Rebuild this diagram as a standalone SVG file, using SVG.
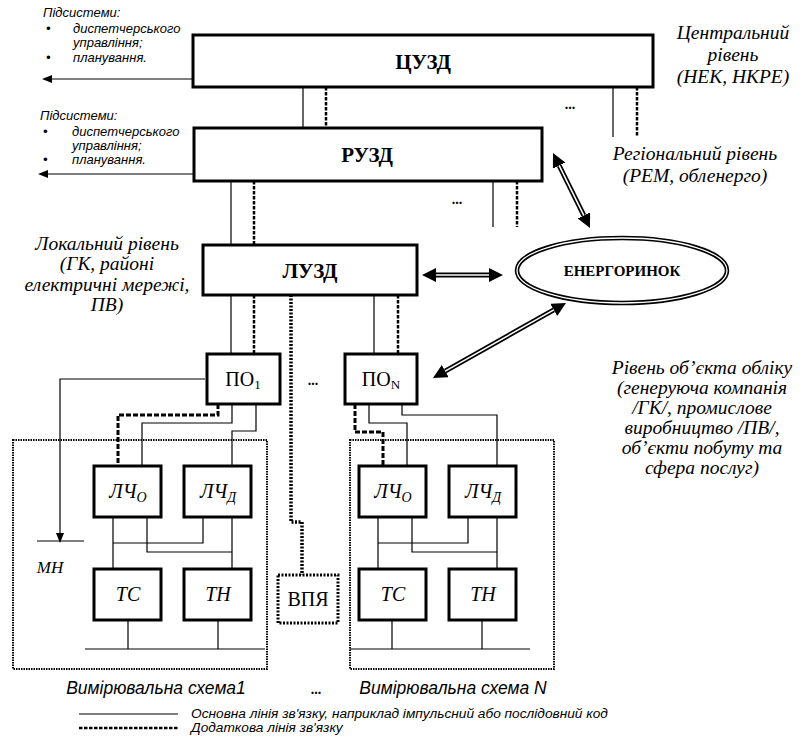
<svg xmlns="http://www.w3.org/2000/svg" width="803" height="742" viewBox="0 0 803 742">
<style>
.box{fill:#fff;stroke:#000;stroke-width:3}
.sl{fill:none;stroke:#000;stroke-width:1.2}
.ds{fill:none;stroke:#000;stroke-width:2.5;stroke-dasharray:3.5 1.5}
.ds2{fill:none;stroke:#000;stroke-width:3;stroke-dasharray:5 2}
.dt{fill:none;stroke:#000;stroke-width:3.5;stroke-dasharray:2 1.5}
.frame{fill:none;stroke:#000;stroke-width:2;stroke-dasharray:1.5 1}
.sm{font-family:'Liberation Sans',Arial,sans-serif;font-style:italic;font-size:13px}
.lv{font-family:'Liberation Serif','Times New Roman',serif;font-style:italic;font-size:19.5px;text-anchor:middle}
.bt{font-family:'Liberation Serif','Times New Roman',serif;font-weight:bold;font-size:21px;text-anchor:middle}
.rt{font-family:'Liberation Serif','Times New Roman',serif;font-size:20px;text-anchor:middle}
.it{font-family:'Liberation Serif','Times New Roman',serif;font-style:italic;font-size:20px;text-anchor:middle}
.dots{font-family:'Liberation Serif','Times New Roman',serif;font-weight:bold;font-size:14px;text-anchor:middle}
.sch{font-family:'Liberation Sans',Arial,sans-serif;font-style:italic;font-size:17.5px;text-anchor:middle}
.lg{font-family:'Liberation Sans',Arial,sans-serif;font-style:italic;font-size:13.7px}
.dshaft{fill:none;stroke:#000;stroke-width:5}
.wshaft{fill:none;stroke:#fff;stroke-width:1.5}
</style>
<defs>
<marker id="sa" viewBox="0 0 10 8" refX="0" refY="4" markerWidth="10" markerHeight="8" markerUnits="userSpaceOnUse" orient="auto-start-reverse"><path d="M0,0 L10,4 L0,8 z"/></marker>
<marker id="dh" viewBox="0 0 14 14" refX="0" refY="7" markerWidth="14" markerHeight="14" markerUnits="userSpaceOnUse" orient="auto-start-reverse"><path d="M0,0 L14,7 L0,14 z"/></marker>
</defs>

<g id="side-texts">
<text class="sm" x="43" y="17">Підсистеми:</text>
<text class="sm" x="46" y="33">•</text><text class="sm" x="73" y="33">диспетчерського</text>
<text class="sm" x="73" y="47">управління;</text>
<text class="sm" x="46" y="62">•</text><text class="sm" x="73" y="62">планування.</text>
<text class="sm" x="40" y="120">Підсистеми:</text>
<text class="sm" x="43" y="136">•</text><text class="sm" x="72" y="136">диспетчерського</text>
<text class="sm" x="72" y="150">управління;</text>
<text class="sm" x="43" y="164">•</text><text class="sm" x="72" y="164">планування.</text>

<text class="lv" x="733" y="39">Центральний</text>
<text class="lv" x="733" y="61">рівень</text>
<text class="lv" x="733" y="83">(НЕК, НКРЕ)</text>
<text class="lv" x="695" y="160">Регіональний рівень</text>
<text class="lv" x="695" y="182">(РЕМ, обленерго)</text>
<text class="lv" x="107" y="250">Локальний рівень</text>
<text class="lv" x="107" y="270">(ГК, районі</text>
<text class="lv" x="107" y="291">електричні мережі,</text>
<text class="lv" x="107" y="311">ПВ)</text>
<text class="lv" x="702" y="374">Рівень об’єкта обліку</text>
<text class="lv" x="702" y="394">(генеруюча компанія</text>
<text class="lv" x="702" y="414">/ГК/, промислове</text>
<text class="lv" x="702" y="434">виробництво /ПВ/,</text>
<text class="lv" x="702" y="454">об’єкти побуту та</text>
<text class="lv" x="702" y="474">сфера послуг)</text>
</g>

<g id="frames">
<rect class="frame" x="13" y="440" width="254" height="229"/>
<rect class="frame" x="350" y="440" width="204" height="229"/>
<text class="sch" x="156" y="694">Вимірювальна схема1</text>
<text class="dots" x="316" y="694">...</text>
<text class="sch" x="453" y="694">Вимірювальна схема N</text>
</g>

<g id="connectors">
<path class="sl" d="M193,79 H52" marker-end="url(#sa)"/>
<path class="sl" d="M194,174 H48" marker-end="url(#sa)"/>
<path class="sl" d="M303,87 V128"/><path class="ds" d="M326,87 V128"/>
<path class="sl" d="M613,87 V137"/><path class="ds" d="M637,87 V137"/>
<path class="sl" d="M231,181 V245"/><path class="ds" d="M254,181 V245"/>
<path class="sl" d="M493,181 V227"/><path class="ds" d="M517,181 V227"/>
<path class="sl" d="M231,295 V354"/><path class="ds" d="M254,295 V354"/>
<path class="sl" d="M374,295 V354"/><path class="ds" d="M398,295 V354"/>
<path class="dt" d="M291,295 V522 H302 V575"/>
<path class="ds2" d="M218,404 V415 H118 V466"/>
<path class="sl" d="M232,404 V423 H142 V466"/>
<path class="sl" d="M256,404 V431 H232 V466"/>
<path class="sl" d="M205,379 H60 V533" marker-end="url(#sa)"/>
<path class="sl" d="M37,541 H84"/>
<path class="sl" d="M113,517 V569 M113,543 H203 V517 M147,517 V552 H232 M232,517 V569"/>
<path class="sl" d="M85,649 H265 M128,620 V649 M218,620 V649"/>
<path class="ds2" d="M355,404 V432 H383 V466"/>
<path class="sl" d="M369,404 V423 H407 V466"/>
<path class="sl" d="M402,404 V415 H497 V466"/>
<path class="sl" d="M378,517 V569 M378,543 H468 V517 M412,517 V552 H497 M497,517 V569"/>
<path class="sl" d="M350,649 H530 M392,620 V649 M482,620 V649"/>
<path class="dshaft" d="M436,275 H489" marker-start="url(#dh)" marker-end="url(#dh)"/>
<path class="wshaft" d="M436,275 H489"/>
<path class="dshaft" d="M559.2,165.6 L583.8,215.4" marker-start="url(#dh)" marker-end="url(#dh)"/>
<path class="wshaft" d="M559.2,165.6 L583.8,215.4"/>
<path class="dshaft" d="M553.8,309.9 L445.2,371.1" marker-start="url(#dh)" marker-end="url(#dh)"/>
<path class="wshaft" d="M553.8,309.9 L445.2,371.1"/>
<text class="dots" x="570" y="109">...</text>
<text class="dots" x="457" y="204">...</text>
<text class="dots" x="313" y="385">...</text>
</g>

<g id="cuzd"><rect class="box" x="193" y="35" width="460" height="52"/><text class="bt" x="423" y="69">ЦУЗД</text></g>
<g id="ruzd"><rect class="box" x="194" y="128" width="348" height="53"/><text class="bt" x="367" y="162">РУЗД</text></g>
<g id="luzd"><rect class="box" x="203" y="245" width="214" height="50"/><text class="bt" x="310" y="278">ЛУЗД</text></g>
<g id="energorynok">
<ellipse cx="622" cy="270.5" rx="105" ry="32.5" fill="#fff" stroke="#000" stroke-width="4.5"/>
<ellipse cx="622" cy="270.5" rx="105" ry="32.5" fill="none" stroke="#fff" stroke-width="1.3"/>
<text class="bt" x="622" y="276" style="font-size:15px">ЕНЕРГОРИНОК</text>
</g>
<g id="po1"><rect class="box" x="207" y="354" width="73" height="50"/><text class="rt" x="243" y="386">ПО<tspan font-size="13" dy="3">1</tspan></text></g>
<g id="poN"><rect class="box" x="345" y="354" width="72" height="50"/><text class="rt" x="381" y="386">ПО<tspan font-size="13" dy="3">N</tspan></text></g>
<g id="lcho1"><rect class="box" x="94" y="466" width="67" height="51"/><text class="it" x="128" y="498">ЛЧ<tspan font-size="14" dy="4">О</tspan></text></g>
<g id="lchd1"><rect class="box" x="184" y="466" width="67" height="51"/><text class="it" x="218" y="498">ЛЧ<tspan font-size="14" dy="4">Д</tspan></text></g>
<g id="ts1"><rect class="box" x="94" y="569" width="67" height="51"/><text class="it" x="128" y="601">ТС</text></g>
<g id="tn1"><rect class="box" x="184" y="569" width="67" height="51"/><text class="it" x="218" y="601">ТН</text></g>
<g id="mn"><text class="it" x="50" y="573" style="font-size:17px">МН</text></g>
<g id="vpya"><rect x="278" y="575" width="60" height="48" fill="#fff" stroke="#000" stroke-width="3" stroke-dasharray="2 1.5"/><text class="rt" x="308" y="606">ВПЯ</text></g>
<g id="lchoN"><rect class="box" x="359" y="466" width="67" height="51"/><text class="it" x="393" y="498">ЛЧ<tspan font-size="14" dy="4">О</tspan></text></g>
<g id="lchdN"><rect class="box" x="449" y="466" width="67" height="51"/><text class="it" x="483" y="498">ЛЧ<tspan font-size="14" dy="4">Д</tspan></text></g>
<g id="tsN"><rect class="box" x="359" y="569" width="67" height="51"/><text class="it" x="393" y="601">ТС</text></g>
<g id="tnN"><rect class="box" x="449" y="569" width="67" height="51"/><text class="it" x="483" y="601">ТН</text></g>

<g id="legend">
<path class="sl" d="M79,714 H178"/>
<text class="lg" x="191" y="718">Основна лінія зв'язку, наприклад імпульсний або послідовний код</text>
<path class="ds" d="M79,728 H178"/>
<text class="lg" x="191" y="732">Додаткова лінія зв'язку</text>
</g>
</svg>
